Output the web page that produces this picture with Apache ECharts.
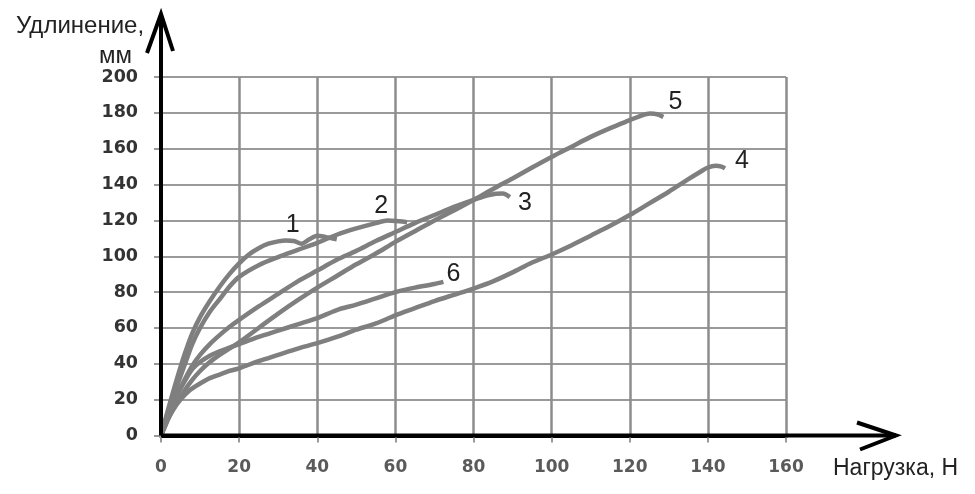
<!DOCTYPE html>
<html>
<head>
<meta charset="utf-8">
<script src="https://cdn.jsdelivr.net/npm/echarts@6/dist/echarts.min.js"></script>
<style>html,body{margin:0;padding:0;background:#fff;}#c{width:975px;height:494px;}</style>
</head>
<body>
<div id="c"></div>
<script>
// Curve names
const curveNames = ['1', '2', '3', '4', '5', '6'];
// Load (N), elongation (mm) pairs
const curve1 = [[0,0],[1,8],[2,16],[4,31],[6,45],[8,57],[10,66],[12.5,75],[15,83],[17.5,90],[20,96],[22.5,101],[25,104.5],[27.5,107],[30,108.3],[32,108.8],[34,108.5],[36,107],[38,109.5],[40,111.5],[42,110.8],[45,109.4]];
const curve2 = [[0,0],[1,7],[2,14],[4,27],[6,39],[8,51],[10,60],[12.5,69],[15,76],[17.5,83],[20,88.5],[25,95],[30,99.5],[35,103.5],[40,107.5],[45,112],[50,115.5],[55,118.5],[58,120],[61,119.5],[63,119]];
const curve3 = [[0,0],[1,6],[2,12],[4,22],[6,31],[8,39],[10,45],[12.5,51],[15,56],[17.5,60.5],[20,64.5],[25,72],[30,79],[35,86],[40,92],[45,98],[50,103],[55,108.5],[60,113.5],[65,118.5],[70,123],[75,127.5],[80,131.5],[84,134.2],[87.5,135],[89.3,133]];
const curve4 = [[0,0],[1,5],[2,10],[3,14],[5,20],[7.5,25.5],[10,29],[12.5,32],[15,34],[17.5,36],[20,37.5],[25,41.5],[30,45],[35,48.5],[40,51.5],[45,55],[50,59],[55,62.5],[60,67],[65,71],[70,75],[75,78.5],[80,82],[85,86],[90,91],[95,96.5],[100,101],[105,106],[110,111.5],[115,117],[120,123],[125,129.5],[130,136],[135,143],[138,147],[140,149.5],[142,150.5],[143.5,150],[144.4,149]];
const curve5 = [[0,0],[1,5],[2,10],[4,18],[6,25],[8,31],[10,36],[12.5,41],[15,45],[17.5,48.5],[20,52],[25,60],[30,68],[35,75.5],[40,82.5],[45,89],[50,95.5],[55,101.5],[60,108],[65,114],[70,120],[75,125.5],[80,131.3],[85,137.5],[90,143.4],[95,149.5],[100,155.4],[105,161],[110,166.6],[115,171.5],[120,175.9],[123,178.5],[125.2,179.6],[127,179.2],[128.6,177.7]];
const curve6 = [[0,0],[1,6],[2,12],[4,22],[6,30],[8,37],[10,41],[12.5,44.5],[15,47],[17.5,49],[20,51],[25,55],[30,58.5],[35,62],[40,65.5],[45,70],[50,73],[55,76.5],[60,80],[65,82.5],[70,84.5],[72.3,85.7]];
const curves = [curve1, curve2, curve3, curve4, curve5, curve6];
// Axis settings
const xMin = 0, xMax = 160, xStep = 20;
const yMin = 0, yMax = 200, yStep = 20;
const yTitle = ['Удлинение,', 'мм'];
const xTitle = 'Нагрузка, Н';

// label offsets (px) for curve numbers relative to curve end
const labelOffsets = [[-44,-14],[-26,-16],[15,6],[17,-7],[12,-15],[10,-8]];

const chart = echarts.init(document.getElementById('c'), null, {renderer: 'canvas'});
const series = curves.map((d, i) => ({
  type: 'line',
  name: curveNames[i],
  data: d,
  smooth: 0.3,
  symbol: 'none',
  lineStyle: {color: '#7f7f7f', width: 4.5},
  z: 3,
  markPoint: {
    symbol: 'circle', symbolSize: 0, silent: true,
    data: [{coord: d[d.length - 1]}],
    label: {show: true, formatter: curveNames[i], position: 'inside', offset: labelOffsets[i],
      color: '#222', fontSize: 25, fontFamily: 'Liberation Sans'}
  }
}));

chart.setOption({
  animation: false,
  backgroundColor: '#fff',
  grid: {left: 161, right: 189, top: 77, bottom: 58.5, containLabel: false},
  xAxis: {
    type: 'value', min: xMin, max: xMax, interval: xStep,
    axisLine: {show: true, lineStyle: {color: '#000', width: 4}},
    axisTick: {show: true, length: 7, lineStyle: {color: '#999', width: 2}},
    axisLabel: {margin: 24, color: '#5a5a5a', fontSize: 17, fontWeight: 'bold', fontFamily: 'DejaVu Sans'},
    splitLine: {show: true, lineStyle: {color: '#8c8c8c', width: 2.5}}
  },
  yAxis: {
    type: 'value', min: yMin, max: yMax, interval: yStep,
    axisLine: {show: true, lineStyle: {color: '#000', width: 4}},
    axisTick: {show: true, length: 7, lineStyle: {color: '#999', width: 2}},
    axisLabel: {margin: 23, color: '#333', fontSize: 17.5, fontWeight: 'bold', fontFamily: 'DejaVu Sans'},
    splitLine: {show: true, lineStyle: {color: '#9a9a9a', width: 2}}
  },
  series: series
});

// Axis extensions and open arrowheads, positioned from the axis origin
const o = chart.convertToPixel({gridIndex: 0}, [0, 0]);
const ox = o[0], oy = o[1];
chart.setOption({
  graphic: [
    {type: 'line', shape: {x1: ox, y1: oy, x2: ox, y2: 14}, style: {stroke: '#000', lineWidth: 4}, z: 10},
    {type: 'polyline', shape: {points: [[ox - 14, 53], [ox, 14], [ox + 12, 51]]}, style: {stroke: '#000', lineWidth: 4, fill: null}, z: 10},
    {type: 'line', shape: {x1: ox, y1: oy, x2: 896, y2: oy}, style: {stroke: '#000', lineWidth: 4}, z: 10},
    {type: 'polyline', shape: {points: [[857, oy - 13], [896, oy], [860, oy + 14]]}, style: {stroke: '#000', lineWidth: 4, fill: null}, z: 10},
    {type: 'text', left: 16, top: 14, style: {text: yTitle[0], fontSize: 24, fontFamily: 'Liberation Sans', fill: '#222'}},
    {type: 'text', left: 99, top: 44, style: {text: yTitle[1], fontSize: 24, fontFamily: 'Liberation Sans', fill: '#222'}},
    {type: 'text', left: 833, top: 457, style: {text: xTitle, fontSize: 23, fontFamily: 'Liberation Sans', fill: '#222'}}
  ]
});
</script>
</body>
</html>
